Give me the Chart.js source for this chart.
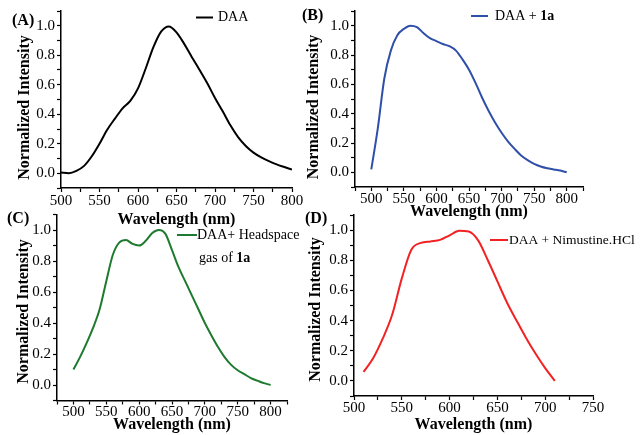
<!DOCTYPE html>
<html>
<head>
<meta charset="utf-8">
<script src="https://cdn.jsdelivr.net/npm/chart.js@4.4.0/dist/chart.umd.min.js"></script>
<style>
  html, body { margin: 0; padding: 0; background: #fff; }
  #wrap { position: relative; width: 640px; height: 435px; overflow: hidden; }
  #wrap canvas { position: absolute; left: 0; top: 0; }
</style>
</head>
<body>
<div id="wrap">
  <canvas id="cA" width="640" height="435"></canvas>
  <canvas id="cB" width="640" height="435"></canvas>
  <canvas id="cC" width="640" height="435"></canvas>
  <canvas id="cD" width="640" height="435"></canvas>
</div>
<script>
// (A) DAA
const wlA = [500,510,520,530,540,550,560,570,580,590,600,610,620,630,640,650,660,670,680,690,700,710,720,730,740,750,760,770,780,790,800];
const intA = [0.005,0.0,0.016,0.05,0.115,0.2,0.295,0.37,0.44,0.49,0.575,0.71,0.855,0.96,0.995,0.955,0.877,0.787,0.70,0.61,0.51,0.42,0.325,0.245,0.185,0.14,0.108,0.082,0.06,0.042,0.025];

// (B) DAA + 1a
const wlB = [500,510,520,530,540,550,560,570,580,590,600,610,620,630,640,650,660,670,680,690,700,710,720,730,740,750,760,770,780,790,800];
const intB = [0.02,0.30,0.64,0.83,0.935,0.978,1.0,0.99,0.95,0.915,0.895,0.875,0.86,0.83,0.77,0.70,0.61,0.51,0.42,0.34,0.27,0.21,0.16,0.115,0.083,0.058,0.04,0.028,0.02,0.012,0.0];

// (C) DAA + headspace gas of 1a
const wlC = [500,510,520,530,540,550,560,570,580,590,600,610,620,630,640,650,660,670,680,690,700,710,720,730,740,750,760,770,780,790,800];
const intC = [0.10,0.18,0.27,0.37,0.49,0.67,0.84,0.92,0.935,0.91,0.90,0.93,0.98,1.0,0.975,0.87,0.76,0.67,0.58,0.49,0.40,0.32,0.245,0.18,0.13,0.095,0.07,0.045,0.028,0.012,0.0];

// (D) DAA + Nimustine.HCl
const wlD = [510,520,530,540,550,560,570,580,590,600,610,620,630,640,650,660,670,680,690,700,710];
const intD = [0.06,0.15,0.28,0.44,0.68,0.87,0.915,0.925,0.935,0.965,0.995,0.99,0.93,0.80,0.66,0.52,0.40,0.285,0.18,0.085,0.0];

const serif = '"Liberation Serif", "Times New Roman", serif';
const nb = '\u00a0';

// panel letter and in-plot legend
const panelDeco = {
  id: 'panelDeco',
  afterDraw(chart, args, o) {
    const ctx = chart.ctx;
    ctx.save();
    ctx.fillStyle = '#000';
    ctx.textBaseline = 'middle';
    ctx.textAlign = 'left';
    ctx.font = 'bold 16px ' + serif;
    ctx.fillText(o.letter, o.letterX, o.letterY);
    ctx.strokeStyle = chart.data.datasets[0].borderColor;
    ctx.lineWidth = 2;
    ctx.beginPath();
    ctx.moveTo(o.lineX0, o.lineY);
    ctx.lineTo(o.lineX1, o.lineY);
    ctx.stroke();
    o.rows.forEach(r => {
      let tx = r.x;
      r.segs.forEach(seg => {
        ctx.font = (seg.b ? 'bold ' : '') + o.size + 'px ' + serif;
        ctx.fillText(seg.t, tx, r.y);
        tx += ctx.measureText(seg.t).width;
      });
    });
    ctx.restore();
  }
};

function makePanel(id, wl, vals, color, p) {
  return new Chart(document.getElementById(id), {
    type: 'line',
    data: {
      datasets: [{
        data: wl.map((x, i) => ({ x: x, y: vals[i] })),
        borderColor: color,
        borderWidth: 2,
        pointRadius: 0,
        cubicInterpolationMode: 'monotone',
        fill: false
      }]
    },
    options: {
      responsive: false,
      animation: false,
      events: [],
      layout: { padding: p.pad },
      plugins: {
        legend: { display: false },
        tooltip: { enabled: false },
        panelDeco: p.deco
      },
      scales: {
        x: {
          type: 'linear',
          min: p.xMin,
          max: p.xMax,
          afterFit: s => { s.height = p.xH; },
          border: { color: '#000', width: 1.5 },
          grid: { drawOnChartArea: false, color: '#000', tickLength: 4, tickWidth: 1.2 },
          ticks: {
            stepSize: 25, autoSkip: false, maxRotation: 0, padding: p.xPad,
            color: '#000', font: { family: serif, size: 15 },
            callback: v => (v % 50 === 0 ? String(v) : '')
          },
          title: {
            display: true, text: 'Wavelength (nm)', color: '#000', padding: 0,
            font: { family: serif, size: 16, weight: 'bold' }
          }
        },
        y: {
          min: -0.1,
          max: 1.1,
          afterFit: s => { s.width = p.yW; },
          border: { color: '#000', width: 1.5 },
          grid: { drawOnChartArea: false, color: '#000', tickLength: 4, tickWidth: 1.2 },
          ticks: {
            stepSize: 0.1, autoSkip: false, padding: 2,
            color: '#000', font: { family: serif, size: 15 },
            callback: v => (Math.round(v * 10) % 2 === 0 ? (Math.round(v * 10) / 10).toFixed(1) : '')
          },
          title: {
            // trailing spaces push the rotated title a little lower, as in the figure
            display: true, text: 'Normalized Intensity' + nb.repeat(p.ySp), color: '#000', padding: 0,
            font: { family: serif, size: 16, weight: 'bold' }
          }
        }
      }
    },
    plugins: [panelDeco]
  });
}

makePanel('cA', wlA, intA, '#000000', {
  pad: { left: 15, right: 348, top: 11, bottom: 205.4 },
  xH: 41.6, yW: 46, xPad: 0.5, xMin: 500, xMax: 800, ySp: 4,
  deco: {
    letter: '(A)', letterX: 12, letterY: 21,
    lineX0: 196, lineX1: 213, lineY: 17.5, size: 14,
    rows: [{ x: 218, y: 17, segs: [{ t: 'DAA' }] }]
  }
});

makePanel('cB', wlB, intB, '#2f4fa8', {
  pad: { left: 304.4, right: 57, top: 9.2, bottom: 213.4 },
  xH: 34.6, yW: 50.6, xPad: -1, xMin: 475, xMax: 825, ySp: 4,
  deco: {
    letter: '(B)', letterX: 302, letterY: 16,
    lineX0: 471, lineX1: 488, lineY: 16, size: 14,
    rows: [{ x: 495, y: 16, segs: [{ t: 'DAA + ' }, { t: '1a', b: true }] }]
  }
});

makePanel('cC', wlC, intC, '#1e7a2e', {
  pad: { left: 14.4, right: 353, top: 214.5, bottom: 0.4 },
  xH: 34.1, yW: 42.6, xPad: -1.5, xMin: 475, xMax: 825, ySp: 2,
  deco: {
    letter: '(C)', letterX: 7, letterY: 219,
    lineX0: 177, lineX1: 197, lineY: 235, size: 14,
    rows: [
      { x: 197, y: 235, segs: [{ t: 'DAA+ Headspace' }] },
      { x: 199, y: 258, segs: [{ t: 'gas of ' }, { t: '1a', b: true }] }
    ]
  }
});

makePanel('cD', wlD, intD, '#f22222', {
  pad: { left: 306.4, right: 47, top: 215, bottom: 0.4 },
  xH: 38.6, yW: 47.6, xPad: -1, xMin: 500, xMax: 750, ySp: 2,
  deco: {
    letter: '(D)', letterX: 305, letterY: 219,
    lineX0: 490, lineX1: 508, lineY: 240, size: 13.5,
    rows: [{ x: 509, y: 240, segs: [{ t: 'DAA + Nimustine.HCl' }] }]
  }
});
</script>
</body>
</html>
